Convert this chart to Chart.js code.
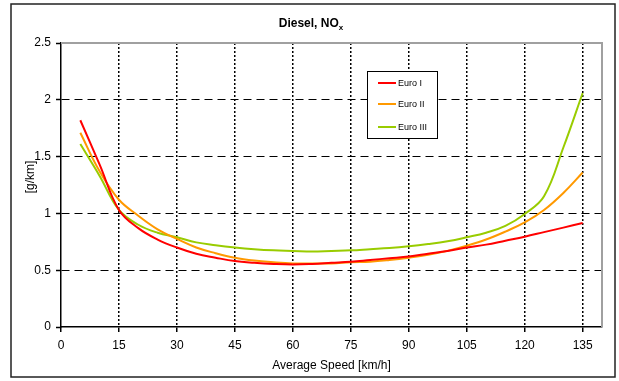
<!DOCTYPE html>
<html>
<head>
<meta charset="utf-8">
<script src="https://cdn.jsdelivr.net/npm/chart.js@4/dist/chart.umd.min.js"></script>
<style>
  html, body { margin: 0; padding: 0; background: #fff; }
  #wrap { width: 619px; height: 381px; }
</style>
</head>
<body>
<div id="wrap"><canvas id="chartNox" width="619" height="381"></canvas></div>
<script>
// velocidades (km/h) e emissões NOx (g/km)
const speeds = [5, 10, 15, 20, 25, 30, 35, 40, 45, 50, 55, 60, 65, 70, 75, 80, 85, 90, 95, 100, 105, 110, 115, 120, 125, 130, 135];
const euro1 = [1.82, 1.43, 1.03, 0.87, 0.77, 0.70, 0.645, 0.61, 0.58, 0.565, 0.555, 0.55, 0.555, 0.565, 0.575, 0.59, 0.605, 0.62, 0.645, 0.67, 0.70, 0.725, 0.76, 0.795, 0.835, 0.875, 0.915];
const euro2 = [1.71, 1.37, 1.12, 0.98, 0.86, 0.775, 0.70, 0.65, 0.61, 0.585, 0.57, 0.56, 0.56, 0.56, 0.57, 0.575, 0.59, 0.61, 0.635, 0.67, 0.715, 0.77, 0.84, 0.92, 1.03, 1.18, 1.36];
const euro3 = [1.61, 1.33, 1.03, 0.90, 0.83, 0.79, 0.745, 0.72, 0.70, 0.685, 0.675, 0.67, 0.665, 0.67, 0.675, 0.685, 0.695, 0.71, 0.73, 0.755, 0.79, 0.83, 0.89, 0.995, 1.15, 1.58, 2.06];
const seriesNames = ['Euro I', 'Euro II', 'Euro III'];
const xTicks = [0, 15, 30, 45, 60, 75, 90, 105, 120, 135];
const yTicks = [0, 0.5, 1, 1.5, 2, 2.5];

const FONT = "'Liberation Sans', Arial, sans-serif";
const toPoints = (vals) => vals.map((v, i) => ({ x: speeds[i], y: v }));

// moldura, título, rótulo do eixo y e legenda desenhados à mão
const decor = {
    id: 'decor',
    beforeDraw(chart) {
        const ctx = chart.ctx;
        ctx.save();
        ctx.fillStyle = '#fff';
        ctx.fillRect(0, 0, chart.width, chart.height);
        ctx.strokeStyle = '#222';
        ctx.lineWidth = 1.5;
        ctx.strokeRect(11, 4, 604, 373);
        ctx.restore();
    },
    beforeDatasetsDraw(chart) {
        const { ctx, chartArea: a } = chart;
        ctx.save();
        ctx.strokeStyle = '#a0a0a0';
        ctx.lineWidth = 2;
        ctx.beginPath();
        ctx.moveTo(a.left, a.top);
        ctx.lineTo(a.right, a.top);
        ctx.lineTo(a.right, a.bottom);
        ctx.stroke();
        ctx.restore();
    },
    afterDraw(chart) {
        const ctx = chart.ctx;
        ctx.save();
        // título com subscrito
        ctx.fillStyle = '#000';
        ctx.textBaseline = 'alphabetic';
        const main = 'Diesel, NO';
        ctx.font = 'bold 8px ' + FONT;
        const subW = ctx.measureText('x').width;
        ctx.font = 'bold 12px ' + FONT;
        const mainW = ctx.measureText(main).width;
        const tx = 311 - (mainW + subW) / 2;
        ctx.fillText(main, tx, 27);
        ctx.font = 'bold 8px ' + FONT;
        ctx.fillText('x', tx + mainW, 30);

        // rótulo do eixo y
        ctx.save();
        ctx.translate(31, 177);
        ctx.rotate(-Math.PI / 2);
        ctx.font = '12px ' + FONT;
        ctx.textAlign = 'center';
        ctx.textBaseline = 'middle';
        ctx.fillText('[g/km]', 0, 0);
        ctx.restore();

        // legenda
        const bx = 367, by = 71, bw = 70, bh = 67;
        ctx.fillStyle = '#fff';
        ctx.fillRect(bx, by, bw, bh);
        ctx.strokeStyle = '#000';
        ctx.lineWidth = 1;
        ctx.strokeRect(bx + 0.5, by + 0.5, bw, bh);
        const rows = [83, 104, 127];
        ctx.font = '9px ' + FONT;
        ctx.textBaseline = 'middle';
        chart.data.datasets.forEach((ds, i) => {
            ctx.strokeStyle = ds.borderColor;
            ctx.lineWidth = 2;
            ctx.beginPath();
            ctx.moveTo(378, rows[i]);
            ctx.lineTo(396, rows[i]);
            ctx.stroke();
            ctx.fillStyle = '#000';
            ctx.fillText(ds.label, 398, rows[i] + 0.5);
        });
        ctx.restore();
    }
};

const colors = ['#ff0000', '#ff9900', '#99cc00'];
const allSeries = [euro1, euro2, euro3];

new Chart(document.getElementById('chartNox'), {
    type: 'line',
    data: {
        datasets: allSeries.map((vals, i) => ({
            label: seriesNames[i],
            data: toPoints(vals),
            borderColor: colors[i],
            borderWidth: 2,
            pointRadius: 0,
            fill: false,
            tension: 0.4
        }))
    },
    options: {
        responsive: false,
        animation: false,
        layout: { padding: { left: 20, right: 17, top: 43, bottom: 6 } },
        plugins: {
            legend: { display: false },
            tooltip: { enabled: false },
            title: { display: false }
        },
        scales: {
            x: {
                type: 'linear',
                min: 0,
                max: 140,
                afterBuildTicks: (s) => { s.ticks = xTicks.map(v => ({ value: v })); },
                afterFit: (s) => { s.height = 381 - 327 - 6; },
                grid: {
                    color: (c) => (c.tick && c.tick.value === 0 ? 'rgba(0,0,0,0)' : '#000'),
                    lineWidth: 1.5,
                    drawTicks: true,
                    tickLength: 5,
                    tickColor: '#000',
                    tickWidth: 1.5,
                    tickBorderDash: []
                },
                border: { display: true, color: '#000', width: 1.5, dash: [2, 2] },
                ticks: {
                    color: '#000',
                    font: { family: FONT, size: 12 },
                    padding: 6,
                    maxRotation: 0
                },
                title: {
                    display: true,
                    text: 'Average Speed [km/h]',
                    color: '#000',
                    font: { family: FONT, size: 12 },
                    padding: { top: 0, bottom: 2 }
                }
            },
            y: {
                min: 0,
                max: 2.5,
                afterBuildTicks: (s) => { s.ticks = yTicks.map(v => ({ value: v })); },
                afterFit: (s) => { s.width = 41; },
                grid: {
                    color: (c) => (c.tick && (c.tick.value === 0 || c.tick.value === 2.5) ? 'rgba(0,0,0,0)' : '#000'),
                    lineWidth: 1,
                    drawTicks: true,
                    tickLength: 5,
                    tickColor: '#000',
                    tickWidth: 1.5,
                    tickBorderDash: []
                },
                border: { display: true, color: '#000', width: 1.5, dash: [8, 5] },
                ticks: {
                    color: '#000',
                    font: { family: FONT, size: 12 },
                    padding: 5,
                    callback: (v) => String(v)
                },
                title: { display: false }
            }
        }
    },
    plugins: [decor]
});
</script>
</body>
</html>
